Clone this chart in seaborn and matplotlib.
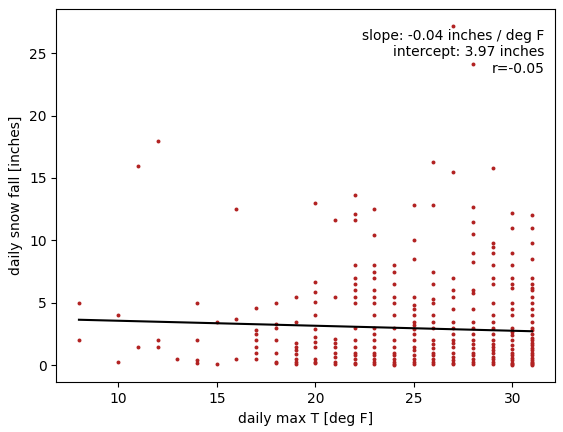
import matplotlib
matplotlib.use("Agg")
import matplotlib.pyplot as plt
import seaborn as sns
import numpy as np
import pandas as pd

snow_by_temp = {
    8: [5.0, 2.0],
    10: [4.0, 0.3],
    11: [16.0, 1.5],
    12: [18.0, 2.0, 1.5],
    13: [0.5],
    14: [5.0, 2.0, 0.4, 0.2],
    15: [3.5, 0.1],
    16: [12.5, 3.7, 0.5],
    17: [4.6, 2.8, 2.5, 2.0, 1.5, 1.0, 0.5],
    18: [5.0, 3.3, 3.0, 2.0, 1.0, 0.3, 0.2],
    19: [5.5, 3.5, 1.8, 1.5, 1.2, 0.9, 0.5, 0.3, 0.1],
    20: [13.0, 6.7, 5.9, 5.1, 4.0, 2.9, 2.3, 1.9, 1.45, 0.5, 0.3, 0.2],
    21: [11.6, 5.5, 2.1, 1.8, 1.5, 1.0, 0.7, 0.3, 0.1],
    22: [13.6, 12.1, 11.6, 8.0, 7.0, 6.5, 6.0, 5.5, 5.0, 3.0, 2.0, 1.5, 1.0, 0.8, 0.5, 0.2, 0.1],
    23: [12.5, 10.4, 8.0, 7.5, 7.0, 6.0, 5.5, 5.0, 4.0, 3.0, 2.5, 2.0, 1.5, 1.0, 0.8, 0.5, 0.3, 0.1],
    24: [8.0, 7.5, 6.5, 5.5, 5.0, 4.0, 3.0, 2.0, 1.5, 1.0, 0.8, 0.5, 0.3, 0.1, 0.0],
    25: [12.8, 10.0, 8.5, 5.5, 4.8, 4.5, 4.0, 3.5, 3.2, 2.9, 2.5, 2.0, 1.5, 1.2, 0.8, 0.5, 0.3, 0.1],
    26: [16.3, 12.8, 7.5, 6.5, 5.3, 5.0, 4.0, 3.5, 3.0, 2.0, 1.7, 1.4, 1.0, 0.8, 0.5, 0.3, 0.1],
    27: [27.2, 15.5, 7.0, 6.0, 5.5, 4.5, 3.5, 3.0, 2.5, 2.0, 1.8, 1.5, 1.0, 0.7, 0.4, 0.2, 0.1],
    28: [24.1, 12.7, 11.5, 10.5, 9.0, 8.3, 6.0, 5.8, 4.5, 3.5, 3.0, 2.5, 2.0, 1.7, 1.4, 1.0, 0.8, 0.5, 0.3, 0.1],
    29: [15.8, 9.8, 9.5, 9.0, 8.0, 7.0, 6.5, 5.0, 4.0, 3.5, 3.0, 2.5, 2.0, 1.7, 1.5, 1.2, 1.0, 0.7, 0.5, 0.3, 0.1],
    30: [12.2, 11.0, 9.0, 8.0, 7.0, 6.5, 6.2, 5.0, 4.5, 4.0, 3.0, 2.7, 2.4, 2.0, 1.6, 1.3, 1.0, 0.8, 0.6, 0.4, 0.2, 0.1, 0.0],
    31: [12.0, 11.0, 9.8, 8.5, 7.0, 6.5, 6.2, 6.0, 5.5, 5.0, 4.5, 4.0, 3.5, 3.0, 2.8, 2.5, 2.2, 2.0, 1.8, 1.6, 1.4, 1.2, 1.0, 0.8, 0.6, 0.4, 0.3, 0.2, 0.1, 0.0],
}
slope = -0.04
intercept = 3.97
r_value = -0.05

temps = [t for t, v in snow_by_temp.items() for _ in v]
snows = [s for v in snow_by_temp.values() for s in v]
df = pd.DataFrame({"temp": temps, "snow": snows})

fig, ax = plt.subplots(figsize=(5.63, 4.32), dpi=100)
ax.text(0.98, 0.945, f"slope: {slope:.2f} inches / deg F\nintercept: {intercept:.2f} inches\nr={r_value:.2f}",
        transform=ax.transAxes, ha="right", va="top", zorder=0)
sns.scatterplot(data=df, x="temp", y="snow", color="#b22222", s=8, linewidth=0, ax=ax, zorder=3)
xs = np.array([df.temp.min(), df.temp.max()])
ax.plot(xs, intercept + slope * xs, color="black", zorder=4)
ax.set_xlabel("daily max T [deg F]")
ax.set_ylabel("daily snow fall [inches]")
fig.subplots_adjust(left=0.1, right=0.985, top=0.98, bottom=0.115)
fig.savefig("out.png", dpi=100)
